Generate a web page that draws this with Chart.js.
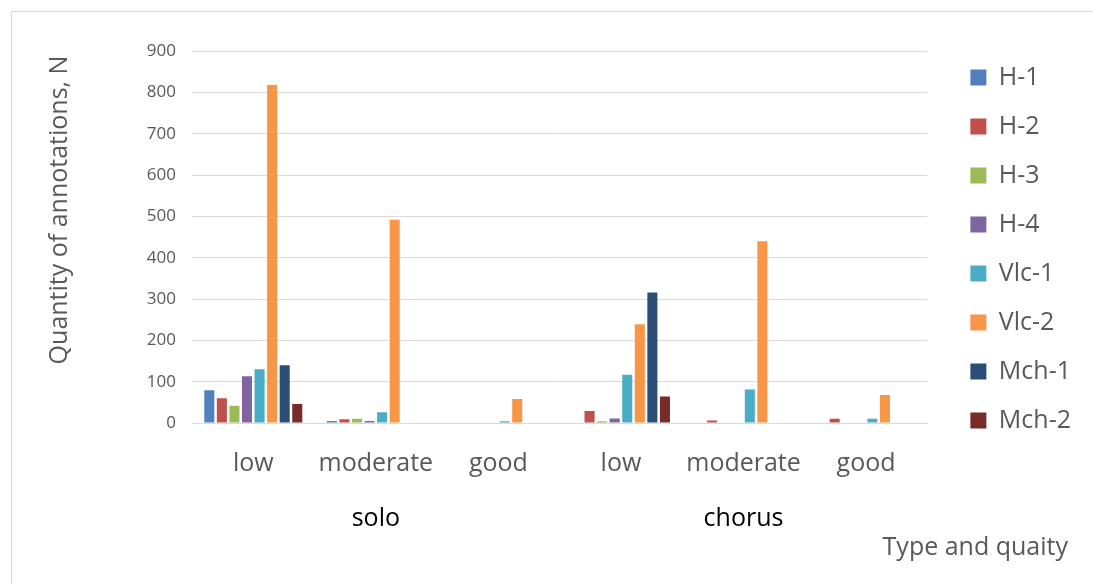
<!DOCTYPE html>
<html>
<head>
<meta charset="utf-8">
<script src="https://cdn.jsdelivr.net/npm/chart.js@4/dist/chart.umd.min.js"></script>
<style>
  html, body { margin: 0; background: #fff; overflow: hidden; }
  #wrap { position: relative; width: 1093px; height: 584px; overflow: hidden; }
  #frame { position: absolute; left: 11px; top: 11px; width: 1300px; height: 700px;
           border-top: 1px solid #d9d9d9; border-left: 1px solid #d9d9d9; }
  canvas { position: absolute; left: 0; top: 0; }
</style>
</head>
<body>
<div id="wrap">
  <div id="frame"></div>
  <canvas id="myChart" width="1093" height="584"></canvas>
</div>
<script>
// categories (quality) and groups (type)
let quality = ['low', 'moderate', 'good', 'low', 'moderate', 'good']
let groups = ['solo', 'chorus']
let yTicks = [0, 100, 200, 300, 400, 500, 600, 700, 800, 900]

// values: solo low, moderate, good, chorus low, moderate, good
let h1 = [79, 5, 0, 0, 0, 0]
let h2 = [60, 9, 0, 29, 6, 10]
let h3 = [42, 10, 0, 4, 0, 0]
let h4 = [113, 5, 0, 11, 0, 0]
let vlc1 = [130, 26, 4, 117, 81, 10]
let vlc2 = [818, 492, 58, 239, 440, 68]
let mch1 = [140, 0, 0, 316, 0, 0]
let mch2 = [46, 0, 0, 64, 0, 0]

let names = ['H-1', 'H-2', 'H-3', 'H-4', 'Vlc-1', 'Vlc-2', 'Mch-1', 'Mch-2']
let series = [h1, h2, h3, h4, vlc1, vlc2, mch1, mch2]
let colors = ['#4F81BD', '#C0504D', '#9BBB59', '#8064A2', '#4BACC6', '#F79646', '#2C4D75', '#772C2A']

let font = "'Open Sans', sans-serif"
let grey = '#595959'

// nudge the legend: up and a bit away from the plot
let legendShift = {
    id: 'legendShift',
    afterLayout(chart) {
        let l = chart.legend
        l.top -= 47; l.bottom -= 47
        l.left += 19; l.right += 19
    }
}

// axis titles: y one sits a bit above the plot middle, x one far right under the legend
let titles = {
    id: 'titles',
    afterDraw(chart) {
        let ctx = chart.ctx
        ctx.save()
        ctx.fillStyle = grey
        ctx.textBaseline = 'middle'
        ctx.font = '25px ' + font
        ctx.translate(60, 210)
        ctx.rotate(-Math.PI / 2)
        ctx.textAlign = 'center'
        ctx.fillText('Quantity of annotations, N', 0, 0)
        ctx.restore()

        ctx.save()
        ctx.font = '25px ' + font
        ctx.fillStyle = grey
        ctx.textAlign = 'right'
        ctx.textBaseline = 'middle'
        ctx.fillText('Type and quaity', 1068, 548)
        ctx.restore()
    }
}

let datasets = series.map((d, i) => ({
    label: names[i],
    data: d,
    backgroundColor: colors[i],
    borderWidth: 0,
    categoryPercentage: 0.82,
    barPercentage: 0.8
}))

new Chart('myChart', {
    type: 'bar',
    data: { labels: quality, datasets: datasets },
    options: {
        responsive: false,
        animation: false,
        layout: { padding: { left: 46, right: 31, top: 51, bottom: 43 } },
        plugins: {
            legend: {
                position: 'right',
                align: 'center',
                labels: {
                    boxWidth: 16, boxHeight: 16, padding: 24,
                    color: grey, font: { family: font, size: 25 }
                }
            },
            tooltip: { enabled: false }
        },
        scales: {
            x: {
                grid: { display: false },
                border: { color: '#d9d9d9' },
                ticks: { color: grey, font: { family: font, size: 25 }, padding: 18 }
            },
            x2: {
                type: 'category',
                labels: groups,
                position: 'bottom',
                offset: true,
                grid: { display: false, drawTicks: false },
                border: { display: false },
                ticks: { color: '#000', font: { family: font, size: 25 }, padding: 7 }
            },
            y: {
                min: 0, max: 900,
                afterBuildTicks: s => { s.ticks = yTicks.map(v => ({ value: v })) },
                afterFit: s => { s.width = 146 },
                grid: { color: '#d9d9d9', drawTicks: false },
                border: { display: false },
                ticks: { color: grey, font: { family: font, size: 17 }, padding: 16 }
            }
        }
    },
    plugins: [legendShift, titles]
})
</script>
</body>
</html>
